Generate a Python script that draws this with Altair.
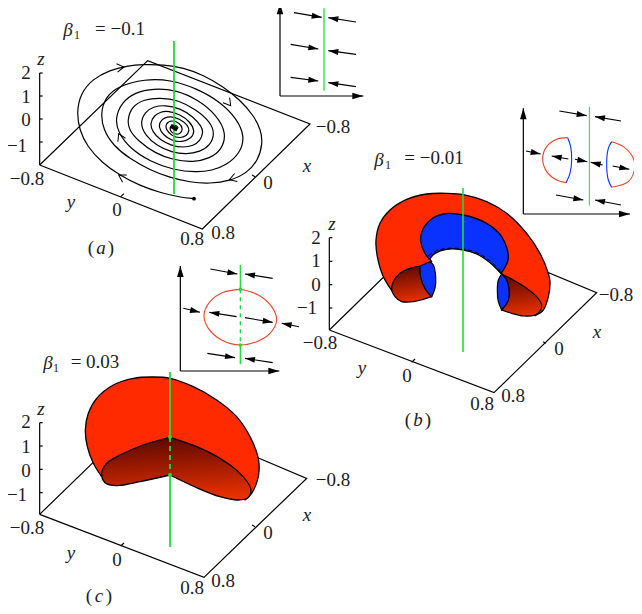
import math
import altair as alt
import pandas as pd

FONT = "Liberation Serif"
INK = "#1c1c1c"
RED = "#ff2a00"
BLUE = "#0a32ff"
GREEN = "#1fdc3c"
THIN_RED = "#f0432a"

# ---------- picture readings (3x crop units; offsets are the crop origins) ----------
A_OFF = (0, 0)
B_OFF = (300, 90)
C_OFF = (0, 260)
S_OFF = (70, 55)

floor_a = [(119, 495), (443, 182), (930, 372), (607, 687), (119, 495)]
floor_b = [(88, 720), (408, 408), (890, 608), (582, 908), (88, 720)]
floor_c = [(119, 763), (440, 452), (920, 655), (612, 952), (119, 763)]
zaxis_a = [(119, 495), (119, 219)]
zaxis_b = [(88, 720), (88, 443)]
zaxis_c = [(119, 763), (119, 488)]
zticks_a = [219, 288, 357, 426]
zticks_b = [443, 514, 584, 654]
zticks_c = [488, 558, 628, 698]
floor_ticks_a = [((362, 590), (372, 581)), ((765, 530), (756, 525))]
floor_ticks_b = [((335, 817), (345, 807)), ((738, 760), (729, 755))]
floor_ticks_c = [((362, 858), (372, 849)), ((765, 800), (756, 795))]

spiral = [
    (372, 431), (330, 427), (270, 413), (210, 392), (150, 362), (95, 322), (52, 275), (28, 225),
    (20, 170), (32, 115), (68, 72), (120, 45), (170, 33), (220, 28), (280, 29), (340, 38),
    (400, 60), (460, 95), (510, 135), (550, 180), (573, 225), (578, 265), (565, 315), (530, 355),
    (480, 378), (420, 386), (360, 382), (300, 368), (240, 345), (180, 312), (130, 272), (100, 225),
    (92, 175), (105, 128), (145, 93), (225, 72), (300, 74), (380, 100), (450, 140), (500, 190),
    (525, 245), (510, 295), (470, 330), (425, 347), (380, 352), (310, 345), (240, 320), (180, 280),
    (145, 235), (135, 190), (155, 142), (195, 112), (250, 100), (320, 105), (385, 135), (440, 180),
    (470, 235), (455, 285), (420, 310), (370, 322), (310, 315), (255, 295), (205, 258), (177, 225),
    (172, 195), (185, 155), (222, 133), (270, 128), (325, 135), (380, 165), (420, 200), (435, 235),
    (420, 272), (390, 290), (350, 298), (305, 292), (260, 272), (225, 240), (210, 205), (225, 170),
    (250, 155), (285, 150), (330, 160), (370, 185), (395, 215), (400, 232), (390, 258), (370, 272),
    (340, 278), (305, 272), (270, 255), (247, 230), (240, 205), (252, 182), (272, 170), (295, 168),
    (330, 178), (360, 200), (375, 228), (365, 250), (335, 262), (305, 257), (280, 240), (266, 218),
    (270, 195), (300, 182), (330, 192), (355, 212), (358, 228), (350, 243), (330, 250), (305, 242),
    (288, 225), (287, 205), (305, 195), (328, 203), (340, 222), (330, 238), (313, 238), (300, 228),
    (300, 213), (315, 208), (325, 218),
]
spiral_start = [(372, 431)]
spiral_core = [(302, 212), (322, 224)]
spiral_chevrons = [((130, 40), (162, 36)), ((455, 118), (482, 152)), ((520, 360), (478, 374)),
                   ((180, 380), (146, 360)), ((162, 270), (146, 236))]

green_a = [(174, 41), (174, 194)]
green_b = [(463, 188), (463, 352)]
green_c_top = [(170, 372), (170, 437)]
green_c_mid = [(170, 437), (170, 475)]
green_c_low = [(170, 475), (170, 547)]
green_c_dots = [(170, 437), (170, 475)]

red_b = [
    (278, 605), (250, 560), (232, 500), (228, 450), (240, 400), (270, 360), (320, 328), (380, 312),
    (440, 310), (490, 314), (560, 335), (620, 370), (680, 430), (720, 490), (745, 550), (750, 575),
    (745, 620), (730, 660), (705, 677), (705, 677), (605, 552), (605, 552), (570, 515), (530, 490),
    (490, 478), (440, 476), (405, 488), (385, 500), (385, 500), (395, 515), (395, 515), (278, 605),
]
blue_b_band = [
    (388, 508), (388, 508), (370, 480), (362, 440), (385, 395), (430, 372), (490, 375), (560, 400),
    (605, 440), (625, 505), (603, 550), (603, 550), (570, 518), (530, 492), (490, 480), (440, 478),
    (405, 490), (388, 508),
]
dash_b = [(385, 497), (410, 482), (440, 475), (490, 477), (530, 488), (570, 512), (603, 545)]
under_b_left = [
    (360, 528), (360, 528), (362, 560), (375, 595), (395, 620), (395, 620), (370, 628), (340, 635),
    (305, 635), (285, 620), (275, 600), (280, 575), (300, 550), (330, 535), (360, 528),
]
blue_b_left = [
    (360, 528), (360, 528), (390, 515), (390, 515), (400, 525), (407, 560), (405, 595), (395, 620),
    (395, 620), (375, 595), (362, 560), (360, 528),
]
under_b_right = [
    (605, 552), (605, 552), (640, 570), (680, 595), (710, 620), (725, 645), (722, 660), (705, 675),
    (670, 678), (635, 670), (605, 660), (605, 660), (625, 630), (627, 600), (620, 570), (605, 552),
]
blue_b_right = [
    (605, 552), (605, 552), (620, 570), (627, 600), (625, 630), (605, 660), (605, 660), (595, 635),
    (592, 600), (595, 570), (605, 552),
]

red_c = [
    (305, 650), (280, 610), (262, 560), (256, 510), (265, 460), (290, 415), (340, 375), (400, 355),
    (460, 351), (510, 355), (580, 380), (650, 420), (710, 470), (750, 530), (775, 595), (775, 650),
    (755, 700), (735, 720), (735, 720), (510, 532), (510, 532), (305, 650),
]
under_c = [
    (510, 532), (510, 532), (430, 555), (360, 585), (320, 610), (305, 640), (315, 668), (350, 677),
    (420, 665), (510, 645), (510, 645), (590, 683), (660, 710), (715, 720), (745, 712), (752, 685),
    (720, 640), (660, 595), (590, 560), (510, 532),
]

# insets
inset_a_axes = [((840, 288), (840, 10)), ((840, 288), (1090, 288))]
inset_a_green = [(972, 25), (972, 272)]
inset_a_arrows = [((882, 38), (965, 52)), ((1068, 66), (985, 53)), ((872, 133), (955, 147)),
                  ((1068, 163), (985, 152)), ((872, 232), (955, 243)), ((1068, 260), (985, 248))]

inset_b_axes = [((670, 372), (670, 55)), ((670, 372), (990, 372))]
inset_b_green = [(868, 50), (868, 347)]
inset_b_arrows = [((778, 63), (860, 77)), ((963, 93), (885, 80)), ((678, 183), (722, 192)),
                  ((805, 207), (755, 198)), ((825, 208), (862, 215)), ((908, 225), (872, 217)),
                  ((938, 228), (988, 238)), ((768, 315), (850, 330)), ((963, 345), (885, 330))]
inset_b_red_l = [(803, 143), (770, 148), (740, 170), (728, 205), (740, 245), (770, 270), (798, 278)]
inset_b_blue_l = [(798, 278), (810, 250), (815, 210), (812, 170), (803, 143)]
inset_b_blue_r = [(935, 155), (925, 175), (920, 225), (925, 270), (935, 292)]
inset_b_red_r = [(935, 155), (970, 170), (1000, 205), (1003, 240), (985, 275), (935, 292)]

inset_c_axes = [((541, 333), (541, 18)), ((541, 333), (838, 333))]
inset_c_green_top = [(721, 15), (721, 88)]
inset_c_green_mid = [(721, 88), (721, 255)]
inset_c_green_low = [(721, 255), (721, 313)]
inset_c_dots = [(721, 88), (721, 255)]
inset_c_oval = [(721, 88), (670, 97), (630, 125), (612, 165), (625, 205), (665, 240), (721, 255),
                (770, 245), (810, 220), (830, 180), (815, 140), (775, 105), (721, 88)]
inset_c_arrows = [((631, 27), (712, 42)), ((818, 55), (735, 42)), ((550, 145), (600, 157)),
                  ((710, 170), (628, 157)), ((735, 173), (818, 187)), ((897, 200), (845, 190)),
                  ((622, 280), (705, 293)), ((818, 308), (735, 295))]

# text, in page pixels
labels = [
    (26, 73, "2"), (26, 97, "1"), (26, 120, "0"), (17, 146, "−1"), (27, 179, "−0.8"),
    (117, 210, "0"), (192, 239, "0.8"), (223, 233, "0.8"), (268, 183, "0"), (333, 127, "−0.8"),
    (120, 29, "= −0.1"),
    (316, 238, "2"), (316, 261, "1"), (316, 285, "0"), (307, 308, "−1"), (320, 343, "−0.8"),
    (407, 376, "0"), (482, 404, "0.8"), (513, 396, "0.8"), (559, 349, "0"), (616, 295, "−0.8"),
    (434, 158, "= −0.01"),
    (26, 422, "2"), (26, 447, "1"), (26, 471, "0"), (17, 495, "−1"), (27, 528, "−0.8"),
    (117, 560, "0"), (192, 588, "0.8"), (223, 581, "0.8"), (268, 533, "0"), (333, 480, "−0.8"),
    (95, 362, "= 0.03"),
    (91, 248, "("), (111, 248, ")"), (408, 420, "("), (428, 420, ")"), (89, 596, "("), (109, 596, ")"),
]
italics = [
    (41, 59, "z"), (71, 202, "y"), (307, 166, "x"), (68, 30, "β"),
    (332, 224, "z"), (362, 368, "y"), (597, 332, "x"), (379, 160, "β"),
    (41, 409, "z"), (71, 553, "y"), (307, 515, "x"), (48, 363, "β"),
    (101, 248, "a"), (418, 420, "b"), (99, 596, "c"),
]
subs = [(77, 35, "1"), (388, 165, "1"), (56, 368, "1")]

# ---------- helpers ----------
X = alt.X("x:Q", scale=alt.Scale(domain=[8, 634]), axis=None)
Y = alt.Y("y:Q", scale=alt.Scale(domain=[606, 8]), axis=None)
HEAD = "M1,0L-1,0.6L-1,-0.6Z"
CHEVRON = "M-1,-0.6L0,0L-1,0.6"


def conv(pts, off=None):
    if off is None:
        return list(pts)
    return [(off[0] + p[0] / 3, off[1] + p[1] / 3) for p in pts]


def frame(pts):
    return pd.DataFrame([{"x": p[0], "y": p[1], "i": i} for i, p in enumerate(pts)])


def line(pts, off=None, color="black", width=1.2, dash=None, fill=None, curve="catmull-rom"):
    kw = dict(stroke=color, strokeWidth=width, interpolate=curve)
    if dash:
        kw["strokeDash"] = dash
    if fill is not None:
        kw["fill"] = fill
    return alt.Chart(frame(conv(pts, off))).mark_line(**kw).encode(x=X, y=Y, order="i:Q")


def straight(pts, off=None, color="black", width=1.2, dash=None):
    return line(pts, off, color, width, dash, curve="linear")


def dots(pts, off=None, color="black", size=14):
    return alt.Chart(frame(conv(pts, off))).mark_circle(color=color, size=size, opacity=1).encode(x=X, y=Y)


def heads(pairs, off=None, length=10.0, shape=HEAD, filled=True, width=1.0):
    rows = []
    for tail, tip in pairs:
        (x0, y0), (x1, y1) = conv([tail, tip], off)
        a = math.atan2(y1 - y0, x1 - x0)
        back = length / 2 if filled else 0
        rows.append({"x": x1 - back * math.cos(a), "y": y1 - back * math.sin(a),
                     "a": math.degrees(a) % 360})
    kw = dict(shape=shape, size=length * length, opacity=1)
    if filled:
        kw.update(filled=True, color="black", strokeWidth=0)
    else:
        kw.update(filled=False, color="black", strokeWidth=width)
    return alt.Chart(pd.DataFrame(rows)).mark_point(**kw).encode(
        x=X, y=Y, angle=alt.Angle("a:Q", scale=None))


def arrows(pairs, off, length=10.0, width=1.1):
    out = []
    for tail, tip in pairs:
        out.append(straight([tail, tip], off, width=width))
    out.append(heads(pairs, off, length))
    return out


def text(rows, size, style="normal"):
    df = pd.DataFrame(rows, columns=["x", "y", "t"])
    return alt.Chart(df).mark_text(font=FONT, fontSize=size, fontStyle=style, color=INK,
                                   align="center", baseline="middle").encode(x=X, y=Y, text="t:N")


def zaxis(axis, ticks, off):
    x0 = axis[0][0]
    out = [straight(axis, off)]
    for t in ticks:
        out.append(straight([(x0, t), (x0 + 9, t)], off))
    return out


shade = alt.Gradient(gradient="linear",
                     stops=[alt.GradientStop(color="#5c0800", offset=0),
                            alt.GradientStop(color="#e83000", offset=1)],
                     x1=0.35, x2=0.5, y1=0, y2=1)

layers = []

# panel a
layers += [straight(floor_a, A_OFF)] + zaxis(zaxis_a, zticks_a, A_OFF)
layers += [straight(t, A_OFF) for t in floor_ticks_a]
layers += [line(spiral, S_OFF, width=1.2, curve="basis"), heads(spiral_chevrons, S_OFF, 14.0, CHEVRON, False)]
layers += [straight(green_a, color=GREEN, width=1.8)]
layers += [straight(spiral_core, S_OFF, width=4.0), dots(spiral_start, S_OFF)]

# panel b
layers += [straight(floor_b, B_OFF)] + zaxis(zaxis_b, zticks_b, B_OFF)
layers += [straight(t, B_OFF) for t in floor_ticks_b]
layers += [line(red_b, B_OFF, fill=RED, width=1.3), line(blue_b_band, B_OFF, fill=BLUE, width=1.3),
           line(dash_b, B_OFF, dash=[4, 3], width=1.0),
           line(under_b_left, B_OFF, fill=shade, width=1.2), line(blue_b_left, B_OFF, fill=BLUE, width=1.2),
           line(under_b_right, B_OFF, fill=shade, width=1.2), line(blue_b_right, B_OFF, fill=BLUE, width=1.2)]
layers += [straight(green_b, color=GREEN, width=1.6)]

# panel c
layers += [straight(floor_c, C_OFF)] + zaxis(zaxis_c, zticks_c, C_OFF)
layers += [straight(t, C_OFF) for t in floor_ticks_c]
layers += [line(red_c, C_OFF, fill=RED, width=1.3), line(under_c, C_OFF, fill=shade, width=1.3)]
layers += [straight(green_c_top, color=GREEN, width=1.8), straight(green_c_low, color=GREEN, width=1.8),
           straight(green_c_mid, color=GREEN, width=1.8, dash=[5, 4]), dots(green_c_dots, color=GREEN, size=16)]

# inset a
for ax in inset_a_axes:
    layers.append(straight(ax, A_OFF))
layers.append(heads(inset_a_axes, A_OFF, 11.0))
layers.append(straight(inset_a_green, A_OFF, color=GREEN, width=1.3))
layers += arrows(inset_a_arrows, A_OFF)

# inset b
for ax in inset_b_axes:
    layers.append(straight(ax, B_OFF))
layers.append(heads(inset_b_axes, B_OFF, 11.0))
layers.append(straight(inset_b_green, B_OFF, color=GREEN, width=1.0))
layers += [line(inset_b_red_l, B_OFF, color=THIN_RED, width=1.1), line(inset_b_blue_l, B_OFF, color=BLUE, width=1.1),
           line(inset_b_red_r, B_OFF, color=THIN_RED, width=1.1), line(inset_b_blue_r, B_OFF, color=BLUE, width=1.1)]
layers += arrows(inset_b_arrows, B_OFF)

# inset c
for ax in inset_c_axes:
    layers.append(straight(ax, C_OFF))
layers.append(heads(inset_c_axes, C_OFF, 11.0))
layers += [straight(inset_c_green_top, C_OFF, color=GREEN, width=1.3),
           straight(inset_c_green_low, C_OFF, color=GREEN, width=1.3),
           straight(inset_c_green_mid, C_OFF, color=GREEN, width=1.3, dash=[4, 4]),
           line(inset_c_oval, C_OFF, color=THIN_RED, width=1.1),
           dots(inset_c_dots, C_OFF, color=GREEN, size=14)]
layers += arrows(inset_c_arrows, C_OFF)

# text
layers += [text(labels, 19), text(italics, 19, "italic"), text(subs, 12)]

chart = alt.layer(*layers).properties(
    width=626, height=598, padding=0, autosize=alt.AutoSizeParams(type="none"), background="white"
).configure_view(stroke=None)

chart.save("out.html", embed_options={"renderer": "svg", "actions": False})
